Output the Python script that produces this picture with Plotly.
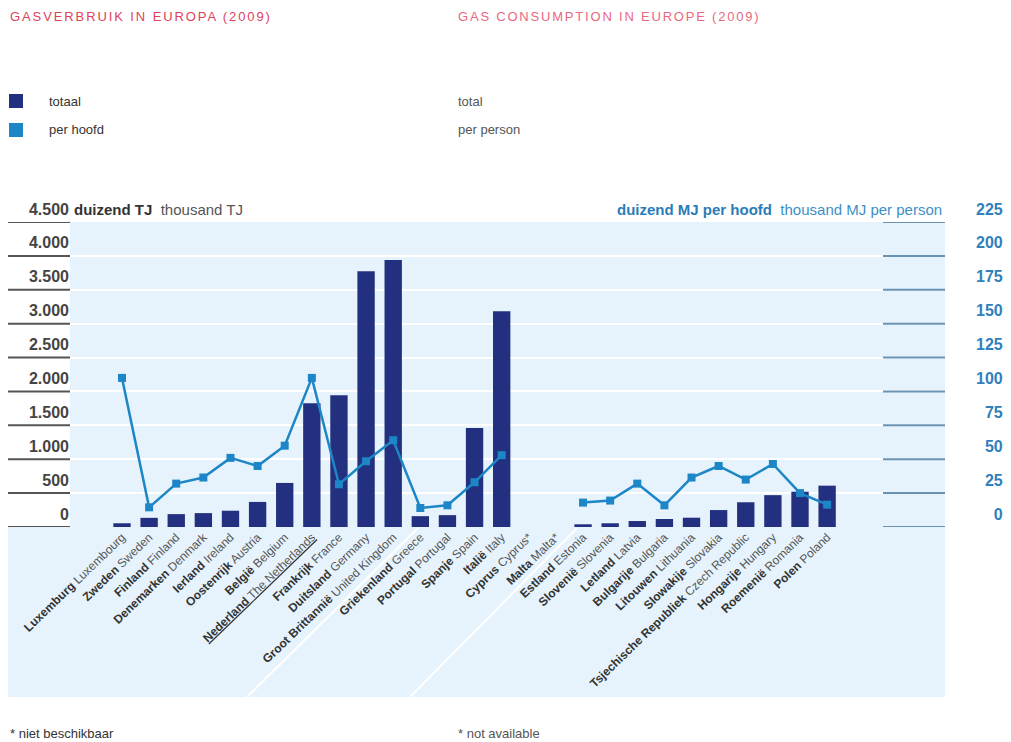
import plotly.graph_objects as go

# ---------------- data ----------------
dutch = ["Luxemburg", "Zweden", "Finland", "Denemarken", "Ierland", "Oostenrijk", "België",
         "Nederland", "Frankrijk", "Duitsland", "Groot Brittannië", "Griekenland", "Portugal",
         "Spanje", "Italië", "Cyprus", "Malta", "Estland", "Slovenië", "Letland", "Bulgarije",
         "Litouwen", "Slowakije", "Tsjechische Republiek", "Hongarije", "Roemenië", "Polen"]
english = ["Luxembourg", "Sweden", "Finland", "Denmark", "Ireland", "Austria", "Belgium",
           "The Netherlands", "France", "Germany", "United Kingdom", "Greece", "Portugal",
           "Spain", "Italy", "Cyprus*", "Malta*", "Estonia", "Slovenia", "Latvia", "Bulgaria",
           "Lithuania", "Slovakia", "Czech Republic", "Hungary", "Romania", "Poland"]
# totaal, duizend TJ
totaal = [55, 135, 190, 205, 240, 370, 650, 1825, 1945, 3775, 3940, 160, 175, 1460, 3185,
          None, None, 40, 55, 88, 118, 137, 250, 365, 470, 520, 610]
# per hoofd, duizend MJ per hoofd
per_hoofd = [110, 14.5, 32, 36.5, 51, 45, 60, 110, 31.5, 48.5, 64, 14, 16, 33, 53,
             None, None, 18, 19.5, 32, 16, 36.5, 45, 35, 46.5, 25, 16.5]
left_ticks = [0, 500, 1000, 1500, 2000, 2500, 3000, 3500, 4000, 4500]
right_ticks = [0, 25, 50, 75, 100, 125, 150, 175, 200, 225]

# ---------------- layout geometry ----------------
OFF = 8                      # page body margin of the html page
W, H = 1011 - OFF, 742 - OFF  # figure size
ML, MT = 70 - OFF, 222 - OFF
BASE = 527 - OFF             # figure pixel y of zero line
MB = H - BASE
MR = W - (945 - OFF)
PW, PH = W - ML - MR, H - MT - MB


def px(x):
    """reference page pixel x -> paper"""
    return (x - OFF - ML) / PW


def py(y):
    """reference page pixel y -> paper"""
    return (BASE - (y - OFF)) / PH


STEP = 27.12
XMIN = -(122 - 70) / STEP
XMAX = XMIN + PW / STEP

NAVY = "#22307f"
BLUE = "#1c86c6"
BG = "#e6f3fc"
FONT = "Liberation Sans, Arial, sans-serif"

labels = []
for d, e in zip(dutch, english):
    if d == "Nederland":
        labels.append('<span style="text-decoration:underline"><b>%s</b> <span style="color:#555">%s</span></span>' % (d, e))
    else:
        labels.append('<b>%s</b> <span style="color:#555">%s</span>' % (d, e))

# right-aligned right-axis labels (pad with figure spaces)
right_text = ["\u2007" * (3 - len(str(v))) + str(v) for v in right_ticks]

xs = list(range(len(dutch)))

fig = go.Figure()
fig.add_trace(go.Bar(x=xs, y=totaal, marker=dict(color=NAVY, line=dict(width=0)),
                     width=0.64, name="totaal", yaxis="y"))
fig.add_trace(go.Scatter(x=xs, y=per_hoofd, mode="lines+markers", yaxis="y2",
                         line=dict(color=BLUE, width=2.5),
                         marker=dict(symbol="square", size=8, color=BLUE),
                         connectgaps=False, name="per hoofd"))

shapes = []
# bottom label-area background
shapes.append(dict(type="rect", xref="paper", yref="paper", x0=px(8), x1=px(945), y0=py(697), y1=py(527),
                   fillcolor=BG, line=dict(width=0), layer="below"))
# diagonal white separators
for (xa, ya, xb, yb) in [(247, 697, 418, 528), (410, 697, 577, 528)]:
    shapes.append(dict(type="line", xref="paper", yref="paper", x0=px(xa), y0=py(ya), x1=px(xb), y1=py(yb),
                       line=dict(color="white", width=2), layer="below"))
# left dark lines and right blue lines at each tick
for v in left_ticks:
    shapes.append(dict(type="line", xref="paper", yref="y", x0=px(8), x1=px(70), y0=v, y1=v,
                       line=dict(color="#555555", width=2)))
for v in right_ticks:
    shapes.append(dict(type="line", xref="paper", yref="y2", x0=px(883), x1=px(945), y0=v, y1=v,
                       line=dict(color="#6a93b3", width=2)))
# legend squares
shapes.append(dict(type="rect", xref="paper", yref="paper", x0=px(9), x1=px(23), y0=py(108), y1=py(94),
                   fillcolor=NAVY, line=dict(width=0)))
shapes.append(dict(type="rect", xref="paper", yref="paper", x0=px(9), x1=px(23), y0=py(137), y1=py(123),
                   fillcolor=BLUE, line=dict(width=0)))

ann = []


def add_text(x, y, text, size=13, color="#333", xanchor="left", family=FONT):
    ann.append(dict(xref="paper", yref="paper", x=px(x), y=py(y), text=text, showarrow=False,
                    xanchor=xanchor, yanchor="middle", font=dict(size=size, color=color, family=family)))


add_text(8, 17, '<span style="letter-spacing:1.9px">GASVERBRUIK IN EUROPA (2009)</span>', 13, "#e0415b")
add_text(456, 17, '<span style="letter-spacing:1.8px">GAS CONSUMPTION IN EUROPE (2009)</span>', 13, "#e8687e")
add_text(47, 101, "totaal", 13, "#333")
add_text(47, 130, "per hoofd", 13, "#333")
add_text(456, 101, "total", 13, "#555")
add_text(456, 130, "per person", 13, "#555")
add_text(72, 209, '<b>duizend TJ</b>  <span style="color:#555">thousand TJ</span>', 15, "#333")
add_text(944, 209, '<b>duizend MJ per hoofd</b>  <span style="color:#3d8fc7">thousand MJ per person</span>',
         15, "#2b7db8", xanchor="right")
add_text(8, 733, "* niet beschikbaar", 13, "#333")
add_text(456, 733, "* not available", 13, "#555")

fig.update_layout(
    width=W, height=H, margin=dict(l=ML, r=MR, t=MT, b=MB, autoexpand=False),
    paper_bgcolor="white", plot_bgcolor=BG,
    separators=",.", showlegend=False,
    font=dict(family=FONT, color="#333"),
    xaxis=dict(range=[XMIN, XMAX], tickvals=xs, ticktext=labels, tickangle=-44,
               tickfont=dict(size=12, color="#333"), showgrid=False, zeroline=False,
               showline=False, ticks=""),
    yaxis=dict(range=[0, 4500], tickvals=left_ticks, tickformat=",d", showgrid=True,
               gridcolor="white", gridwidth=2, zeroline=False, showline=False, ticks="",
               ticklabelshift=-13, ticklabelstandoff=0,
               tickfont=dict(size=16, color="#444", weight="bold")),
    yaxis2=dict(range=[0, 225], tickvals=right_ticks, ticktext=right_text, overlaying="y", side="right",
                showgrid=False, zeroline=False, showline=False, ticks="",
                ticklabelshift=-13, ticklabelstandoff=30,
                tickfont=dict(size=16, color="#2f80bd", weight="bold")),
    shapes=shapes, annotations=ann,
)

fig.write_html("out.html")
